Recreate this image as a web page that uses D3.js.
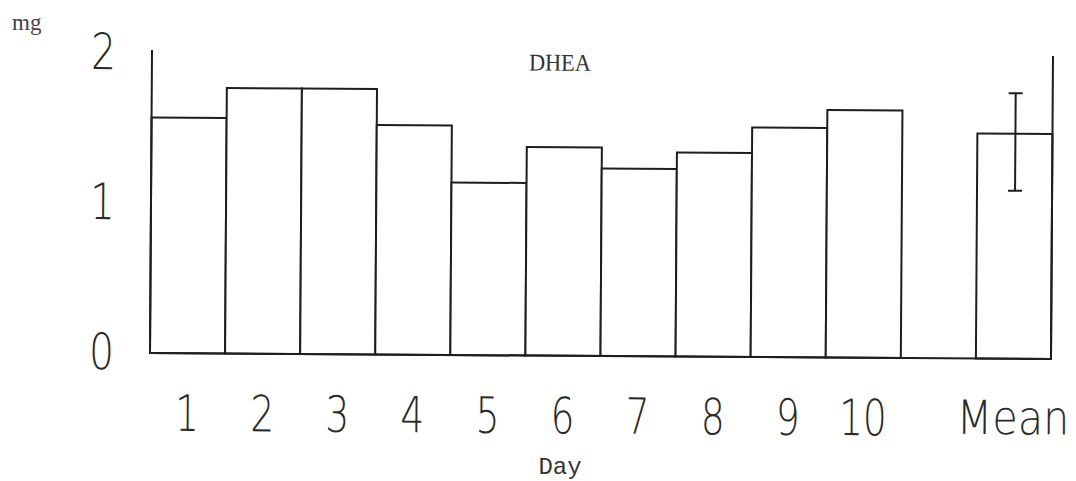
<!DOCTYPE html>
<html>
<head>
<meta charset="utf-8">
<script src="https://cdn.jsdelivr.net/npm/d3@7"></script>
<style>
  body { margin: 0; background: #fff; }
  svg { display: block; }
</style>
</head>
<body>
<svg id="chart" width="1076" height="481"></svg>
<script>
// Daily DHEA excretion (mg) over ten days, plus the mean with its range bar
const days = ["1", "2", "3", "4", "5", "6", "7", "8", "9", "10"];
const dayValues = [1.57, 1.77, 1.77, 1.53, 1.15, 1.39, 1.25, 1.36, 1.53, 1.65];
const meanLabel = "Mean";
const meanValue = 1.50;
const meanErrLow = 1.12;
const meanErrHigh = 1.77;
const yTicks = [0, 1, 2];
const yMax = 2.02;
const spacer = " ";

const ink = "#1e1e1e";
const svg = d3.select("#chart");

const plotLeft = 150, plotRight = 1051, plotBase = 353, plotTop = 50;

const x = d3.scaleBand()
  .domain([...days, spacer, meanLabel])
  .range([plotLeft, plotRight])
  .padding(0);

const y = d3.scaleLinear()
  .domain([0, yMax])
  .range([plotBase, plotTop]);

// the whole plot sits very slightly tilted, as on the printed page
const g = svg.append("g")
  .attr("transform", `rotate(0.38, ${plotLeft}, ${plotBase})`);

const bars = days.map((d, i) => ({ key: d, value: dayValues[i] }))
  .concat([{ key: meanLabel, value: meanValue }]);

g.selectAll("rect.bar")
  .data(bars)
  .join("rect")
  .attr("class", "bar")
  .attr("x", d => x(d.key))
  .attr("y", d => y(d.value))
  .attr("width", x.bandwidth())
  .attr("height", d => y(0) - y(d.value))
  .attr("fill", "#fff")
  .attr("stroke", ink)
  .attr("stroke-width", 2);

// frame: left and right uprights, baseline
g.append("line")
  .attr("x1", plotLeft).attr("x2", plotLeft)
  .attr("y1", y(0)).attr("y2", y(yMax))
  .attr("stroke", ink).attr("stroke-width", 2);
g.append("line")
  .attr("x1", plotRight).attr("x2", plotRight)
  .attr("y1", y(0)).attr("y2", y(yMax))
  .attr("stroke", ink).attr("stroke-width", 2);
g.append("line")
  .attr("x1", plotLeft).attr("x2", plotRight)
  .attr("y1", y(0)).attr("y2", y(0))
  .attr("stroke", ink).attr("stroke-width", 2);

// range bar on the mean
const cx = x(meanLabel) + x.bandwidth() / 2 + 0.5;
const cap = 7;
g.append("line")
  .attr("x1", cx).attr("x2", cx)
  .attr("y1", y(meanErrLow)).attr("y2", y(meanErrHigh))
  .attr("stroke", ink).attr("stroke-width", 2);
[meanErrLow, meanErrHigh].forEach(v => {
  g.append("line")
    .attr("x1", cx - cap).attr("x2", cx + cap)
    .attr("y1", y(v)).attr("y2", y(v))
    .attr("stroke", ink).attr("stroke-width", 2);
});

const tickFont = "'DejaVu Sans', sans-serif";

// narrow the light stencil-like lettering horizontally
function condense(sel, factor) {
  sel.each(function () {
    const t = d3.select(this);
    const f = typeof factor === "function" ? factor(t.text()) : factor;
    const w = this.getComputedTextLength();
    t.attr("textLength", w * f).attr("lengthAdjust", "spacingAndGlyphs");
  });
}

// y axis numbers
const yAxis = d3.axisLeft(y).tickValues(yTicks).tickSize(0).tickPadding(36)
  .tickFormat(d3.format("d"));
const ya = g.append("g").attr("transform", `translate(${plotLeft},0)`).call(yAxis);
ya.select(".domain").remove();
ya.selectAll("text")
  .attr("font-family", tickFont)
  .attr("font-weight", 200)
  .attr("font-size", 50)
  .attr("fill", "#2a2a2a")
  .call(condense, 0.78);

// x axis labels
const xAxis = d3.axisBottom(x)
  .tickValues([...days, meanLabel])
  .tickSize(0).tickPadding(0);
const xa = g.append("g").attr("transform", `translate(0,${plotBase + 42})`).call(xAxis);
xa.select(".domain").remove();
xa.selectAll("text")
  .attr("dy", "0.71em")
  .attr("font-family", tickFont)
  .attr("font-weight", 200)
  .attr("font-size", d => d === meanLabel ? 47 : 50)
  .attr("fill", "#2a2a2a")
  .call(condense, s => s === meanLabel ? 0.88 : 0.75);

// typed annotations
svg.append("text")
  .attr("x", 12).attr("y", 30)
  .attr("font-family", "'Liberation Serif', serif")
  .attr("font-size", 23)
  .attr("fill", "#444")
  .text("mg");

g.append("text")
  .attr("x", 558).attr("y", 68)
  .attr("text-anchor", "middle")
  .attr("font-family", "'Liberation Serif', serif")
  .attr("font-size", 24)
  .attr("textLength", 62)
  .attr("lengthAdjust", "spacingAndGlyphs")
  .attr("fill", "#333")
  .text("DHEA");

svg.append("text")
  .attr("x", 560).attr("y", 474)
  .attr("text-anchor", "middle")
  .attr("font-family", "'Liberation Mono', monospace")
  .attr("font-size", 24)
  .attr("fill", "#333")
  .text("Day");
</script>
</body>
</html>
